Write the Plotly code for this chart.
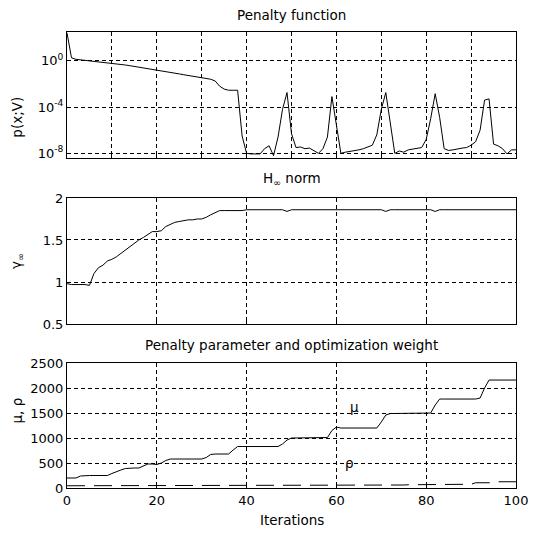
import plotly.graph_objects as go

iterations = list(range(0, 101))

# log10 of the penalty function p(x;V), one value per iteration
penalty_log10 = [
    2.4, 0.25, 0.12, 0.08, 0.04, 0.0, -0.04, -0.08, -0.12, -0.16,
    -0.2, -0.26, -0.31, -0.37, -0.43, -0.49, -0.55, -0.6, -0.66, -0.72,
    -0.78, -0.85, -0.92, -0.99, -1.06, -1.14, -1.21, -1.28, -1.35, -1.42,
    -1.5, -1.55, -1.6, -1.75, -2.2, -2.45, -2.55, -2.55, -2.55, -6.5,
    -8.0, -8.05, -8.05, -8.05, -7.6, -7.35, -8.2, -6.6, -4.2, -2.75,
    -6.3, -7.5, -7.45, -7.6, -7.55, -7.8, -8.0, -7.6, -6.6, -3.1,
    -5.6, -8.0, -7.9, -7.85, -7.75, -7.7, -7.6, -7.45, -7.3, -6.4,
    -4.2, -2.75, -5.2, -8.0, -7.8, -7.9, -7.7, -7.65, -7.6, -7.5,
    -6.8, -5.0, -2.85, -4.9, -7.6, -7.75, -7.7, -7.6, -7.55, -7.5,
    -7.3, -7.0, -6.0, -3.4, -3.3, -7.2, -7.35, -7.6, -8.05, -7.7,
    -7.7,
]
penalty = [10 ** e for e in penalty_log10]

# H-infinity norm gamma
gamma_inf = [
    0.98, 0.97, 0.97, 0.97, 0.97, 0.96, 1.1, 1.17, 1.2, 1.25,
    1.27, 1.3, 1.34, 1.39, 1.43, 1.47, 1.5, 1.53, 1.56, 1.6,
    1.6, 1.61, 1.66, 1.69, 1.71, 1.72, 1.73, 1.74, 1.74, 1.75,
    1.75, 1.77, 1.8, 1.83, 1.85, 1.85, 1.85, 1.85, 1.85, 1.85,
    1.86, 1.86, 1.86, 1.86, 1.86, 1.86, 1.86, 1.86, 1.86, 1.84,
    1.86, 1.86, 1.86, 1.86, 1.86, 1.86, 1.86, 1.86, 1.86, 1.86,
    1.86, 1.86, 1.86, 1.86, 1.86, 1.86, 1.86, 1.86, 1.86, 1.86,
    1.86, 1.84, 1.86, 1.86, 1.86, 1.86, 1.86, 1.86, 1.86, 1.86,
    1.86, 1.86, 1.84, 1.86, 1.86, 1.86, 1.86, 1.86, 1.86, 1.86,
    1.86, 1.86, 1.86, 1.86, 1.86, 1.86, 1.86, 1.86, 1.86, 1.86,
    1.86,
]

# Penalty parameter mu
mu = [
    200, 200, 200, 240, 250, 250, 250, 250, 250, 250,
    290, 330, 360, 390, 400, 400, 400, 440, 480, 480,
    470, 500, 550, 580, 580, 580, 580, 580, 580, 580,
    580, 610, 670, 680, 680, 680, 680, 760, 830, 830,
    830, 830, 830, 830, 830, 830, 830, 830, 880, 960,
    1000, 1000, 1000, 1000, 1000, 1000, 1000, 1000, 1010, 1150,
    1220, 1200, 1200, 1200, 1200, 1200, 1200, 1200, 1200, 1200,
    1320, 1460, 1490, 1490, 1490, 1490, 1490, 1490, 1490, 1490,
    1490, 1500, 1660, 1780, 1780, 1780, 1780, 1780, 1780, 1780,
    1780, 1780, 1800, 2000, 2160, 2160, 2160, 2160, 2160, 2160,
    2160,
]

# Optimization weight rho
rho = [45] * 56 + [55] + [60] * 19 + [65] * 9 + [75] * 6 + [105] * 5 + [125] * 5

log_tickvals = [1, 1e-4, 1e-8]
log_ticktext = ["10<sup>0</sup>", "10<sup>-4</sup>", "10<sup>-8</sup>"]
x_ticks_bottom = [0, 20, 40, 60, 80, 100]

FONT = "DejaVu Sans"
line = dict(color="black", width=1)

fig = go.Figure()
fig.add_trace(go.Scatter(x=iterations, y=penalty, mode="lines", line=line,
                         xaxis="x", yaxis="y", showlegend=False))
fig.add_trace(go.Scatter(x=iterations, y=gamma_inf, mode="lines", line=line,
                         xaxis="x2", yaxis="y2", showlegend=False))
fig.add_trace(go.Scatter(x=iterations, y=mu, mode="lines", line=line,
                         xaxis="x3", yaxis="y3", showlegend=False))
fig.add_trace(go.Scatter(x=iterations, y=rho, mode="lines",
                         line=dict(color="black", width=1, dash="18px,9px"),
                         xaxis="x3", yaxis="y3", showlegend=False))

common = dict(showline=True, linecolor="black", linewidth=1, mirror=True,
              showgrid=True, gridcolor="black", gridwidth=1, griddash="4px,3px",
              zeroline=False, ticks="inside", ticklen=4, tickcolor="black",
              ticklabeloverflow="allow",
              tickfont=dict(family=FONT, size=13, color="black"))

dom_top = [0.723, 1.0]
dom_mid = [0.3596, 0.636]
dom_bot = [0.0, 0.274]

fig.update_layout(
    width=540, height=535,
    margin=dict(l=67, r=12, t=32, b=47),
    paper_bgcolor="white", plot_bgcolor="white",
    font=dict(family=FONT, size=13.5, color="black"),
    xaxis=dict(domain=[0, 1], range=[0, 100], anchor="y", tickvals=list(range(0, 101, 10)),
               showticklabels=False, **common),
    yaxis=dict(domain=dom_top, type="log", range=[-8.43, 2.48], anchor="x",
               tickvals=log_tickvals, ticktext=log_ticktext, **common),
    xaxis2=dict(domain=[0, 1], range=[0, 100], anchor="y2", tickvals=x_ticks_bottom,
                showticklabels=False, **common),
    yaxis2=dict(domain=dom_mid, range=[0.5, 2], anchor="x2",
                tickvals=[0.5, 1, 1.5, 2], ticktext=["0.5", "1", "1.5", "2"], **common),
    xaxis3=dict(domain=[0, 1], range=[0, 100], anchor="y3", tickvals=x_ticks_bottom,
                **common),
    yaxis3=dict(domain=dom_bot, range=[0, 2500], anchor="x3",
                tickvals=[0, 500, 1000, 1500, 2000, 2500], **common),
)

annotations = [
    dict(text="Penalty function", xref="paper", yref="paper", x=0.5, y=dom_top[1],
         yanchor="bottom", yshift=7, showarrow=False),
    dict(text="H<sub>∞</sub> norm", xref="paper", yref="paper", x=0.5, y=dom_mid[1],
         yanchor="bottom", yshift=8, showarrow=False),
    dict(text="Penalty parameter and optimization weight", xref="paper", yref="paper",
         x=0.5, y=dom_bot[1], yanchor="bottom", yshift=8, showarrow=False),
    dict(text="Iterations", xref="paper", yref="paper", x=0.5, y=0,
         yanchor="middle", yshift=-32, showarrow=False),
    dict(text="p(x;V)", xref="paper", yref="paper", x=0, y=sum(dom_top) / 2,
         xanchor="center", xshift=-50, textangle=-90, showarrow=False),
    dict(text="γ<sub>∞</sub>", xref="paper", yref="paper", x=0, y=sum(dom_mid) / 2,
         xanchor="center", xshift=-50, textangle=-90, showarrow=False),
    dict(text="μ, ρ", xref="paper", yref="paper", x=0, y=sum(dom_bot) / 2,
         xanchor="center", xshift=-50, textangle=-90, showarrow=False),
    dict(text="μ", xref="x3", yref="y3", x=64, y=1620, showarrow=False),
    dict(text="ρ", xref="x3", yref="y3", x=63, y=500, showarrow=False),
]
fig.update_layout(annotations=annotations)

fig.write_html(
    "out.html",
    config={"displayModeBar": False},
    post_script="document.body.style.margin='0';document.body.style.overflow='hidden';",
)
